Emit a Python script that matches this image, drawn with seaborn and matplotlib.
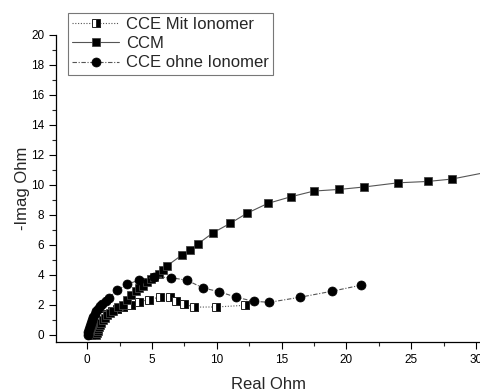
import matplotlib
matplotlib.use("Agg")
import matplotlib.pyplot as plt
import seaborn as sns
import pandas as pd
from matplotlib.ticker import MultipleLocator

sns.set_style("ticks")
plt.rcParams['font.family'] = ['Liberation Sans', 'DejaVu Sans']

# CCE Mit Ionomer
mit_x = [0.3, 0.35, 0.42, 0.5, 0.6, 0.72, 0.85, 1.0, 1.23, 1.5, 1.88, 2.3, 2.8, 3.42, 4.0, 4.77, 5.59, 6.41, 6.87, 7.46, 8.28, 9.95, 12.2]
mit_y = [0.0, 0.15, 0.3, 0.45, 0.6, 0.75, 0.9, 1.05, 1.22, 1.4, 1.58, 1.72, 1.85, 2.0, 2.18, 2.33, 2.49, 2.51, 2.27, 2.04, 1.83, 1.84, 1.95]

# CCM
ccm_x = [0.72, 0.76, 0.8, 0.85, 0.9, 0.98, 1.08, 1.2, 1.36, 1.55, 1.75, 2.0, 2.38, 2.77, 3.1, 3.42, 3.8, 4.0, 4.31, 4.62, 4.9, 5.13, 5.52, 5.85, 6.15, 7.28, 7.9, 8.57, 9.72, 11.03, 12.31, 13.92, 15.72, 17.49, 19.46, 21.34, 23.98, 26.26, 28.13, 31.5]
ccm_y = [0.0, 0.12, 0.25, 0.38, 0.5, 0.65, 0.8, 0.95, 1.1, 1.3, 1.45, 1.6, 1.85, 2.0, 2.3, 2.67, 2.9, 3.1, 3.22, 3.51, 3.7, 3.82, 4.05, 4.29, 4.58, 5.29, 5.62, 6.07, 6.8, 7.42, 8.09, 8.75, 9.2, 9.58, 9.69, 9.85, 10.13, 10.22, 10.38, 10.95]

# CCE ohne Ionomer
ohne_x = [0.05, 0.1, 0.15, 0.22, 0.3, 0.38, 0.46, 0.58, 0.72, 0.85, 0.98, 1.18, 1.42, 1.67, 2.31, 3.05, 3.98, 5.15, 6.45, 7.72, 8.92, 10.15, 11.49, 12.85, 14.05, 16.42, 18.88, 21.1]
ohne_y = [0.0, 0.2, 0.4, 0.6, 0.8, 1.0, 1.15, 1.35, 1.55, 1.72, 1.89, 2.07, 2.25, 2.45, 2.95, 3.35, 3.62, 3.84, 3.8, 3.62, 3.11, 2.87, 2.49, 2.22, 2.15, 2.49, 2.89, 3.29]

labels = ["CCE Mit Ionomer", "CCM", "CCE ohne Ionomer"]

fig = plt.figure(figsize=(4.8, 3.91), dpi=100)
ax = fig.add_axes([0.1167, 0.1253, 0.8833, 0.7852])

line_col = "#555555"
sns.lineplot(x=mit_x, y=mit_y, sort=False, estimator=None, ax=ax, label=labels[0],
             color=line_col, linestyle=(0, (1, 1.5)), linewidth=0.8,
             marker="s", markersize=5.5, fillstyle="right", markerfacecolor="black",
             markerfacecoloralt="white", markeredgecolor="#222222", markeredgewidth=0.7)
sns.lineplot(x=ccm_x, y=ccm_y, sort=False, estimator=None, ax=ax, label=labels[1],
             color=line_col, linestyle="-", linewidth=0.8,
             marker="s", markersize=5.5, markerfacecolor="black",
             markeredgecolor="#444444", markeredgewidth=0.6)
sns.lineplot(x=ohne_x, y=ohne_y, sort=False, estimator=None, ax=ax, label=labels[2],
             color=line_col, linestyle=(0, (4, 1.5, 1, 1.5)), linewidth=0.8,
             marker="o", markersize=6.5, markerfacecolor="black",
             markeredgecolor="black", markeredgewidth=0.5)

ax.set_xlim(-2.4, 30.3)
ax.set_ylim(-0.5, 20)
ax.xaxis.set_major_locator(MultipleLocator(5))
ax.xaxis.set_minor_locator(MultipleLocator(2.5))
ax.yaxis.set_major_locator(MultipleLocator(2))
ax.yaxis.set_minor_locator(MultipleLocator(1))
ax.tick_params(which="major", direction="out", length=5, width=0.8, labelsize=8.5, colors="black")
ax.tick_params(which="minor", direction="out", length=3, width=0.8)
for s in ["top", "right"]:
    ax.spines[s].set_visible(False)
for s in ["left", "bottom"]:
    ax.spines[s].set_color("black")
    ax.spines[s].set_linewidth(0.9)
ax.spines["left"].set_bounds(-0.5, 20)

ax.set_xlabel("Real Ohm", fontsize=12, labelpad=8)
ax.set_ylabel("-Imag Ohm", fontsize=12, labelpad=1)

leg = ax.legend(loc="upper left", bbox_to_anchor=(0.029, 1.072), fontsize=12,
                frameon=True, fancybox=False, edgecolor="#777777", framealpha=1,
                handlelength=2.8, labelspacing=0.25, borderpad=0.25, handletextpad=0.4,
                borderaxespad=0)
leg.get_frame().set_linewidth(0.8)

fig.savefig("out.png", dpi=100)
